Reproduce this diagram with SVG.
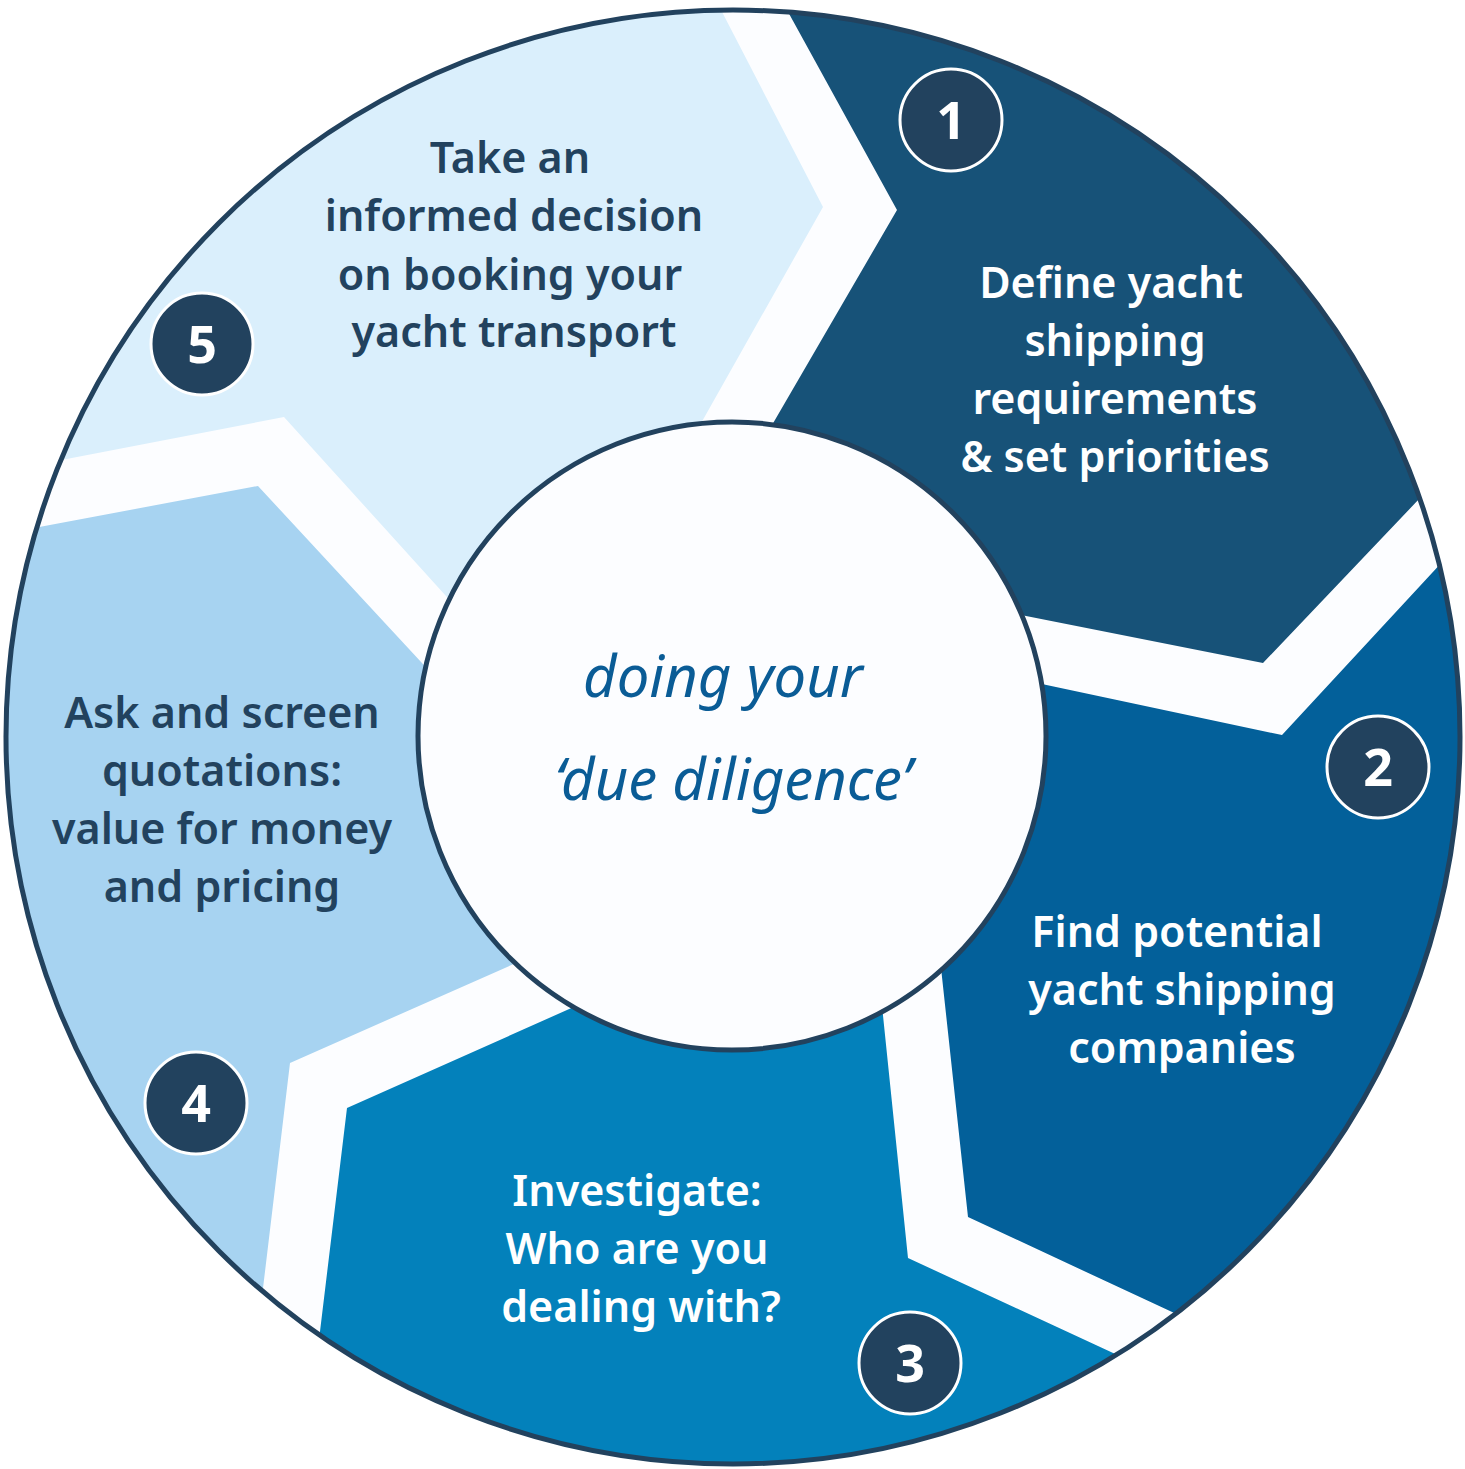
<svg xmlns="http://www.w3.org/2000/svg" width="1465" height="1469" viewBox="0 0 1465 1469">
<defs>
<style>
.lbl{font-family:"Noto Sans","Open Sans",sans-serif;font-weight:600;font-size:43px;text-anchor:middle}
.w{fill:#ffffff}
.d{fill:#22425e}
.num circle{fill:#22425e;stroke:#ffffff;stroke-width:3}
.num text{font-family:"Noto Sans","Open Sans",sans-serif;font-weight:700;font-size:52px;fill:#ffffff;text-anchor:middle}
.ctr{font-family:"Noto Sans","Open Sans",sans-serif;font-style:italic;font-size:58px;fill:#0a5c96;text-anchor:middle}
</style>
<clipPath id="outer"><circle cx="733" cy="737" r="727"/></clipPath>
</defs>
<rect width="1465" height="1469" fill="#ffffff"/>
<circle cx="733" cy="737" r="727" fill="#fcfdff"/>
<g clip-path="url(#outer)">
<g id="seg1"><polygon points="754,-50 1500,-50 1500,414 1263,663 900,591 740,480 897,210" fill="#175278"/></g>
<g id="seg2"><polygon points="1545,451 1282,735 900,654 925,820 968,1217 1580,1502 1600,1502 1600,451" fill="#03609a"/></g>
<g id="seg3"><polygon points="650,973 347,1108 296,1530 296,1600 1420,1600 1420,1495 908,1258 868,870" fill="#0381bb"/></g>
<g id="seg4"><polygon points="620,917 290,1063 240,1480 -100,1480 -100,553 258,486 560,812" fill="#a7d3f1"/></g>
<g id="seg5"><polygon points="660,496 823,207 690,-50 -100,-50 -100,491 284,417 560,722" fill="#daeffc"/></g>
</g>
<circle cx="733" cy="737" r="727" fill="none" stroke="#22425e" stroke-width="5"/>
<g id="center"><circle cx="732" cy="736" r="314" fill="#fcfdff" stroke="#22425e" stroke-width="5"/>
<text class="ctr" x="723" y="697" font-size="57">doing your</text>
<text class="ctr" x="733" y="800">‘due diligence’</text></g>
<g id="label1"><text class="lbl w" x="1111" y="298">Define yacht</text><text class="lbl w" x="1115" y="356">shipping</text><text class="lbl w" x="1115" y="414">requirements</text><text class="lbl w" x="1115" y="472">&amp; set priorities</text></g>
<g id="label2"><text class="lbl w" x="1177" y="947">Find potential</text><text class="lbl w" x="1182" y="1005">yacht shipping</text><text class="lbl w" x="1182" y="1063">companies</text></g>
<g id="label3"><text class="lbl w" x="637" y="1206">Investigate:</text><text class="lbl w" x="637" y="1264">Who are you</text><text class="lbl w" x="641" y="1322">dealing with?</text></g>
<g id="label4"><text class="lbl d" x="222" y="728">Ask and screen</text><text class="lbl d" x="222" y="786">quotations:</text><text class="lbl d" x="222" y="844">value for money</text><text class="lbl d" x="222" y="902">and pricing</text></g>
<g id="label5"><text class="lbl d" x="510" y="173">Take an</text><text class="lbl d" x="514" y="231">informed decision</text><text class="lbl d" x="510" y="290">on booking your</text><text class="lbl d" x="514" y="347">yacht transport</text></g>
<g id="n1" class="num"><circle cx="951" cy="120" r="51"/><text x="951" y="139">1</text></g>
<g id="n2" class="num"><circle cx="1378" cy="767" r="51"/><text x="1378" y="786">2</text></g>
<g id="n3" class="num"><circle cx="910" cy="1363" r="51"/><text x="910" y="1382">3</text></g>
<g id="n4" class="num"><circle cx="196" cy="1103" r="51"/><text x="196" y="1122">4</text></g>
<g id="n5" class="num"><circle cx="202" cy="344" r="51"/><text x="202" y="363">5</text></g>
</svg>
